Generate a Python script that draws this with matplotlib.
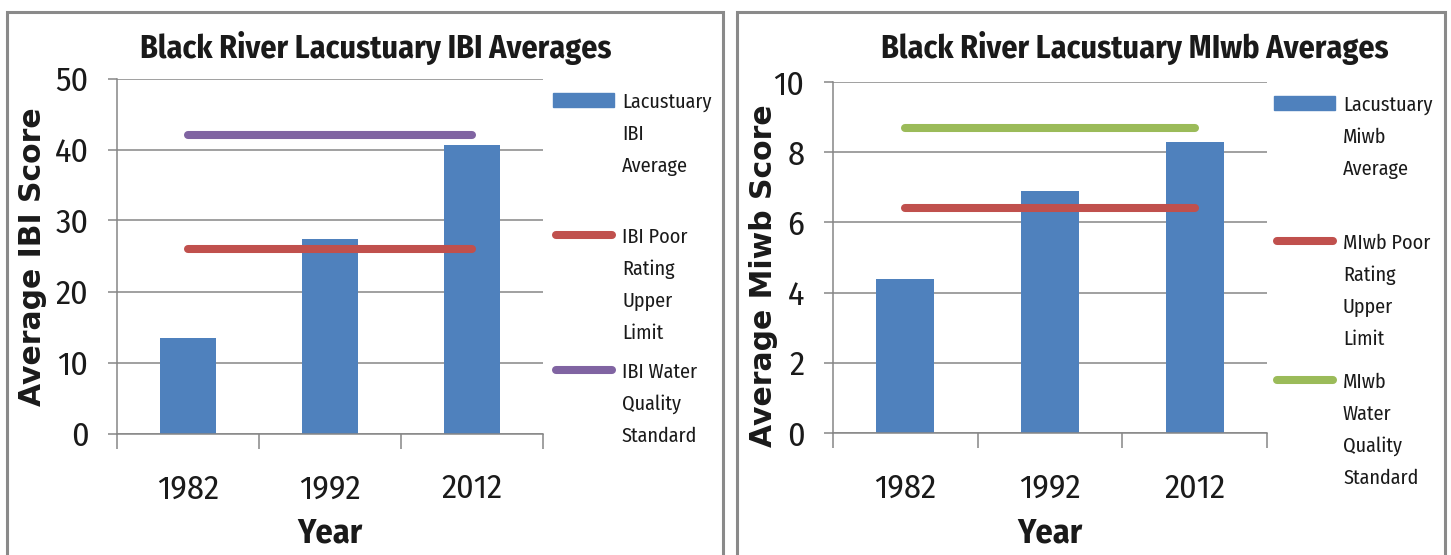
import matplotlib
matplotlib.use("Agg")
import matplotlib.pyplot as plt
from matplotlib.lines import Line2D
from matplotlib.patches import Rectangle
from matplotlib.transforms import blended_transform_factory
import numpy as np

W, H = 1451, 555

years = ["1982", "1992", "2012"]

ibi_avg = [13.4, 27.4, 40.7]
ibi_poor = [26, 26, 26]
ibi_wqs = [42, 42, 42]

miwb_avg = [4.4, 6.9, 8.3]
miwb_poor = [6.4, 6.4, 6.4]
miwb_wqs = [8.7, 8.7, 8.7]

ibi_labels = ["Lacustuary\nIBI\nAverage", "IBI Poor\nRating\nUpper\nLimit",
              "IBI Water\nQuality\nStandard"]
miwb_labels = ["Lacustuary\nMiwb\nAverage", "MIwb Poor\nRating\nUpper\nLimit",
               "MIwb\nWater\nQuality\nStandard"]

BLUE = "#4F81BD"
RED = "#C0504D"
PURPLE = "#8064A2"
GREEN = "#9BBB59"
GRID = "#868686"
TXT = "#1a1a1a"
NARROW = ["Fira Sans Condensed", "DejaVu Sans"]


def fx(px):
    return px / W


def fy(py):
    return 1 - py / H


fig = plt.figure(figsize=(W / 100, H / 100), dpi=100)

# panel frames
for x0, x1 in [(6.5, 722.5), (736.5, 1444.5)]:
    fig.add_artist(Rectangle((fx(x0), fy(600)), fx(x1) - fx(x0), fy(11.5) - fy(600),
                             transform=fig.transFigure, fill=False,
                             ec="#8a8a8a", lw=2.2))


def panel(ax_box, avg, poor, wqs, top_color, ymax, ystep, title, title_x,
          ylabel, ylab_xy, labels, leg_x, leg_ys):
    x0, x1, ytop, ybot = ax_box
    ax = fig.add_axes([fx(x0), fy(ybot), fx(x1) - fx(x0), fy(ytop) - fy(ybot)])
    x = np.arange(len(years))
    ax.bar(x, avg, width=0.4, color=BLUE, zorder=2)
    ax.plot(x, poor, color=RED, lw=5.8, solid_capstyle="round", zorder=3)
    ax.plot(x, wqs, color=top_color, lw=5.8, solid_capstyle="round", zorder=3)

    ax.set_xlim(-0.5, len(years) - 0.5)
    ax.set_ylim(0, ymax)
    ax.set_yticks(np.arange(0, ymax + ystep / 2, ystep))
    ax.yaxis.grid(True, color=GRID, lw=1.1, zorder=0)
    ax.set_axisbelow(True)
    for s in ["top", "right"]:
        ax.spines[s].set_visible(False)
    for s in ["left", "bottom"]:
        ax.spines[s].set_color(GRID)
        ax.spines[s].set_linewidth(1.1)

    ax.set_xticks(np.arange(-0.5, len(years)), labels=[""] * (len(years) + 1))
    ax.set_xticks(x, labels=years, minor=True)
    ax.tick_params(axis="x", which="major", length=10.8, width=1.1, color=GRID)
    ax.tick_params(axis="x", which="minor", length=0, pad=28.5)
    ax.tick_params(axis="y", length=6.5, width=1.1, color=GRID, pad=14)
    for lab in ax.get_xticklabels(minor=True) + ax.get_yticklabels():
        lab.set_fontfamily(NARROW)
        lab.set_fontsize(24.5)
        lab.set_color(TXT)

    ax.set_xlabel("Year", fontfamily=NARROW, fontweight="bold", fontsize=24.5,
                  color=TXT)
    ax.xaxis.set_label_coords(0.5, fy(516),
                              transform=blended_transform_factory(ax.transAxes, fig.transFigure))
    fig.text(fx(ylab_xy[0]), fy(ylab_xy[1]), ylabel, rotation=90, ha="center",
             va="center", fontfamily="DejaVu Sans", fontweight="bold",
             fontsize=21.5, color=TXT)
    fig.text(fx(title_x), fy(58), title, ha="center", va="baseline",
             fontfamily=NARROW, fontweight="bold", fontsize=23, color=TXT)

    # legend
    handles = [("bar", BLUE), ("line", RED), ("line", top_color)]
    for (kind, col), lab, ly in zip(handles, labels, leg_ys):
        if kind == "bar":
            fig.add_artist(Rectangle((fx(leg_x), fy(ly + 7)), fx(61), fy(0) - fy(14),
                                     transform=fig.transFigure, color=col))
        else:
            fig.add_artist(Line2D([fx(leg_x + 3), fx(leg_x + 59)], [fy(ly), fy(ly)],
                                  transform=fig.transFigure, color=col, lw=5.8,
                                  solid_capstyle="round"))
        for k, line in enumerate(lab.split("\n")):
            fig.text(fx(leg_x + 69), fy(ly + 32 * k), line, ha="left",
                     va="center_baseline", fontfamily=NARROW, fontsize=14.5,
                     color=TXT)
    return ax


panel((117, 543, 78.5, 433.5), ibi_avg, ibi_poor, ibi_wqs, PURPLE, 50, 10,
      "Black River Lacustuary IBI Averages", 376,
      "Average IBI Score", (33, 257), ibi_labels, 553, [100, 235, 370])

panel((833, 1267, 82, 433), miwb_avg, miwb_poor, miwb_wqs, GREEN, 10, 2,
      "Black River Lacustuary MIwb Averages", 1135,
      "Average Miwb Score", (764, 276), miwb_labels, 1274, [103, 241, 380])

fig.savefig("out.png", dpi=100)
